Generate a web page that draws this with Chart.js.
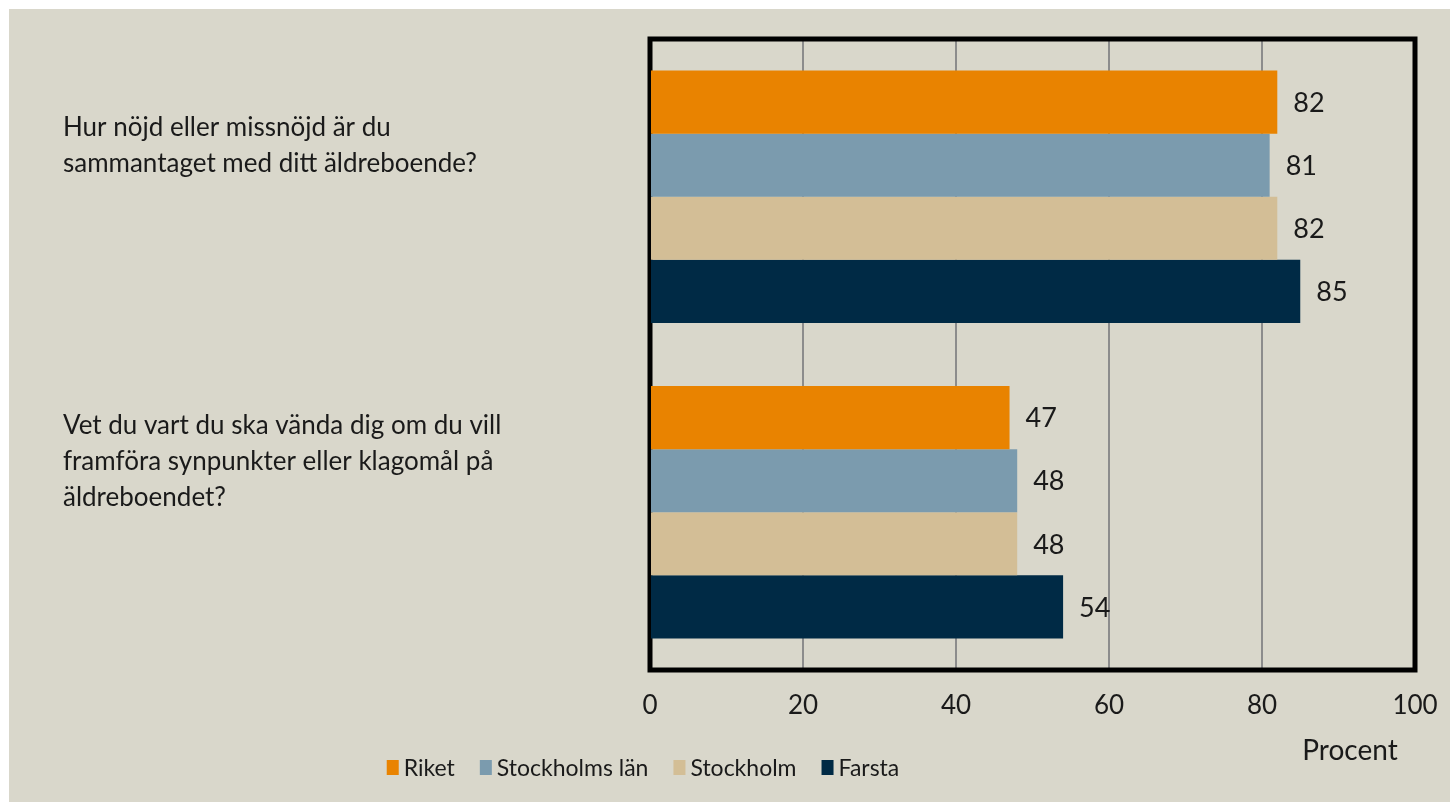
<!DOCTYPE html>
<html lang="sv">
<head>
<meta charset="utf-8">
<title>Äldreboende</title>
<script src="https://cdn.jsdelivr.net/npm/chart.js@4.4.1/dist/chart.umd.min.js"></script>
<style>
  html, body { margin: 0; padding: 0; background: #fff; }
  #ram { position: absolute; left: 9px; top: 9px; width: 1441px; height: 793px; background: #D9D7CB; }
</style>
</head>
<body>
<div id="ram"><canvas id="diagram"></canvas></div>
<script>
// frågor (kategorier)
const fragor = [
    ['Hur nöjd eller missnöjd är du', 'sammantaget med ditt äldreboende?'],
    ['Vet du vart du ska vända dig om du vill', 'framföra synpunkter eller klagomål på', 'äldreboendet?']
];

// andel nöjda, procent
const riket = [82, 47];
const stockholmsLan = [81, 48];
const stockholm = [82, 48];
const farsta = [85, 54];

const serier = ['Riket', 'Stockholms län', 'Stockholm', 'Farsta'];
const xTicks = [0, 20, 40, 60, 80, 100];
const axelTitel = 'Procent';

const farger = ['#E98300', '#7B9BAE', '#D3BE96', '#002A45'];
const typsnitt = 'Lato, "DejaVu Sans", sans-serif';
const textfarg = '#1a1a1a';

// ram runt diagramytan
const ramPlugin = {
    id: 'ram',
    beforeDatasetsDraw(chart) {
        const { ctx, chartArea: a } = chart;
        ctx.save();
        ctx.strokeStyle = '#000';
        ctx.lineWidth = 5;
        ctx.strokeRect(a.left, a.top, a.right - a.left, a.bottom - a.top);
        ctx.restore();
    }
};

// värden till höger om staplarna
const vardePlugin = {
    id: 'varden',
    afterDatasetsDraw(chart) {
        const ctx = chart.ctx;
        ctx.save();
        ctx.font = '27px ' + typsnitt;
        ctx.fillStyle = textfarg;
        ctx.textAlign = 'left';
        ctx.textBaseline = 'middle';
        chart.data.datasets.forEach((ds, i) => {
            chart.getDatasetMeta(i).data.forEach((bar, j) => {
                ctx.fillText(ds.data[j], bar.x + 16, bar.y + 1);
            });
        });
        ctx.restore();
    }
};

// teckenförklaring och axeltitel
const forklaringPlugin = {
    id: 'forklaring',
    afterDraw(chart) {
        const { ctx, chartArea: a } = chart;
        ctx.save();
        ctx.fillStyle = textfarg;
        ctx.font = '28px ' + typsnitt;
        ctx.textAlign = 'center';
        ctx.textBaseline = 'middle';
        ctx.fillText(axelTitel, a.right - 65, a.bottom + 81);

        ctx.font = '23px ' + typsnitt;
        ctx.textAlign = 'left';
        const box = 12, gap = 5, mellan = 25;
        const bredder = chart.data.datasets.map(ds => box + gap + ctx.measureText(ds.label).width);
        const total = bredder.reduce((s, b) => s + b, 0) + mellan * (bredder.length - 1);
        let x = 634 - total / 2;
        const y = a.bottom + 98;
        chart.data.datasets.forEach((ds, i) => {
            ctx.fillStyle = ds.backgroundColor;
            ctx.fillRect(x, y - 8, box, 15);
            ctx.fillStyle = textfarg;
            ctx.fillText(ds.label, x + box + gap, y + 1);
            x += bredder[i] + mellan;
        });
        ctx.restore();
    }
};

new Chart(document.getElementById('diagram'), {
    type: 'bar',
    data: {
        labels: fragor,
        datasets: [riket, stockholmsLan, stockholm, farsta].map((d, i) => ({
            label: serier[i],
            data: d,
            backgroundColor: farger[i],
            borderWidth: 0,
            categoryPercentage: 0.8,
            barPercentage: 1.0
        }))
    },
    options: {
        indexAxis: 'y',
        responsive: true,
        maintainAspectRatio: false,
        animation: false,
        layout: { padding: { left: 54, top: 30, right: 35, bottom: 0 } },
        plugins: {
            legend: { display: false },
            tooltip: { enabled: false }
        },
        scales: {
            x: {
                min: 0,
                max: 100,
                afterBuildTicks: s => { s.ticks = xTicks.map(v => ({ value: v })); },
                afterFit: s => { s.height = 132; s.paddingLeft = 0; s.paddingRight = 0; },
                grid: { color: '#8C8C8C', lineWidth: 2, drawTicks: false },
                border: { display: false },
                ticks: { padding: 20, color: textfarg, font: { family: typsnitt, size: 26 } }
            },
            y: {
                afterFit: s => { s.width = 587; s.paddingTop = 0; s.paddingBottom = 0; },
                grid: { display: false },
                border: { display: false },
                ticks: {
                    crossAlign: 'far',
                    padding: 0,
                    labelOffset: -51,
                    autoSkip: false,
                    color: textfarg,
                    font: { family: typsnitt, size: 26, lineHeight: 1.38 }
                }
            }
        }
    },
    plugins: [ramPlugin, vardePlugin, forklaringPlugin]
});
</script>
</body>
</html>
